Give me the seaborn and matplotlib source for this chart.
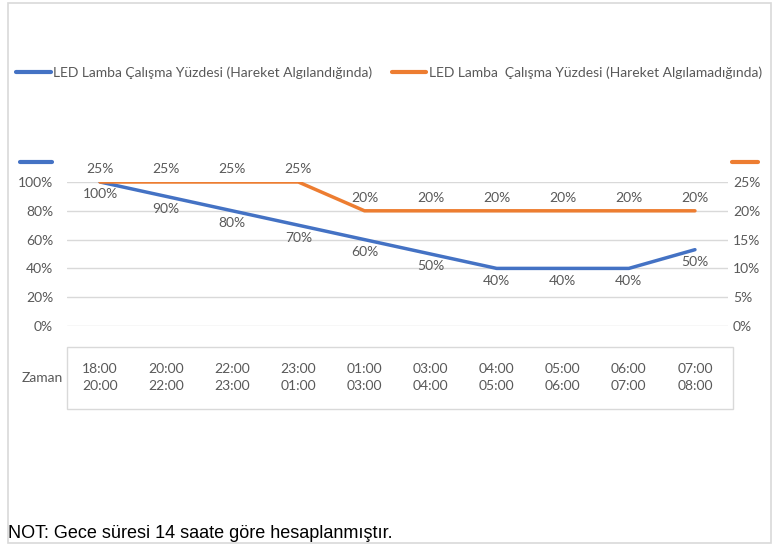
import numpy as np
import pandas as pd
import matplotlib
matplotlib.use("Agg")
import matplotlib.pyplot as plt
import seaborn as sns
from matplotlib.lines import Line2D
from matplotlib.patches import Rectangle
from matplotlib.transforms import blended_transform_factory

# data
zaman = ["18:00\n20:00", "20:00\n22:00", "22:00\n23:00", "23:00\n01:00", "01:00\n03:00",
         "03:00\n04:00", "04:00\n05:00", "05:00\n06:00", "06:00\n07:00", "07:00\n08:00"]
hareket_var = [100, 90, 80, 70, 60, 50, 40, 40, 40, 53]
hareket_var_etiket = ["100%", "90%", "80%", "70%", "60%", "50%", "40%", "40%", "40%", "50%"]
hareket_yok = [25, 25, 25, 25, 20, 20, 20, 20, 20, 20]
seri1 = "LED Lamba Çalışma Yüzdesi (Hareket Algılandığında)"
seri2 = "LED Lamba  Çalışma Yüzdesi (Hareket Algılamadığında)"
not_metni = "NOT: Gece süresi 14 saate göre hesaplanmıştır."

sns.set_style("white")
plt.rcParams["font.family"] = ["Lato", "DejaVu Sans"]

BLUE = "#4472C4"
ORANGE = "#ED7D31"
GRAY = "#595959"
GRID = "#D9D9D9"
FS = 10
W, H = 784, 545

def fx(px):
    return px / W

def fy(py):
    return 1 - py / H

fig = plt.figure(figsize=(W / 100, H / 100), dpi=100)
ax = fig.add_axes([fx(67), fy(326), fx(728) - fx(67), fy(182) - fy(326)])

df = pd.DataFrame({"x": np.arange(len(zaman)), "blue": hareket_var, "orange": hareket_yok})

sns.lineplot(data=df, x="x", y="blue", ax=ax, color=BLUE, lw=2.5, legend=False)
ax.set_ylim(0, 100)
ax.set_xlim(-0.5, len(zaman) - 0.5)
ax.set_yticks(range(0, 101, 20))
ax.set_yticklabels([f"{v}%" for v in range(0, 101, 20)], color=GRAY, fontsize=FS)
ax.set_xticks([])
ax.set_xlabel("")
ax.set_ylabel("")
ax.grid(axis="y", color=GRID, lw=1)
ax.tick_params(axis="y", length=0, pad=10)
for s in ax.spines.values():
    s.set_visible(False)

ax2 = ax.twinx()
sns.lineplot(data=df, x="x", y="orange", ax=ax2, color=ORANGE, lw=2.5, legend=False)
ax2.set_ylim(0, 25)
ax2.set_yticks(range(0, 26, 5))
ax2.set_yticklabels([f"{v}%" for v in range(0, 26, 5)], color=GRAY, fontsize=FS)
ax2.tick_params(axis="y", length=0, pad=3.5)
ax2.set_ylabel("")
for s in ax2.spines.values():
    s.set_visible(False)

for i, (v, t) in enumerate(zip(hareket_var, hareket_var_etiket)):
    ax.annotate(t, (i, v), xytext=(0, -9), textcoords="offset points",
                ha="center", va="center", color=GRAY, fontsize=FS)
for i, v in enumerate(hareket_yok):
    ax2.annotate(f"{v}%", (i, v), xytext=(0, 9), textcoords="offset points",
                 ha="center", va="center", color=GRAY, fontsize=FS)

# category table under the plot
trans = blended_transform_factory(ax.transData, fig.transFigure)
for i, lab in enumerate(zaman):
    ax.text(i, fy(377.5), lab, transform=trans, ha="center", va="center",
            color=GRAY, fontsize=FS, linespacing=1.55)
fig.text(fx(42), fy(378), "Zaman", ha="center", va="center", color=GRAY, fontsize=FS)
fig.add_artist(Rectangle((fx(67), fy(409)), fx(733) - fx(67), fy(347) - fy(409),
                         transform=fig.transFigure, fill=False, ec=GRID, lw=1))

# axis series markers
fig.add_artist(Line2D([fx(20), fx(52)], [fy(162), fy(162)], color=BLUE, lw=3, solid_capstyle="round"))
fig.add_artist(Line2D([fx(732), fx(758)], [fy(162), fy(162)], color=ORANGE, lw=3, solid_capstyle="round"))

# legend
handles = [Line2D([], [], color=BLUE, lw=3), Line2D([], [], color=ORANGE, lw=3)]
fig.legend(handles, [seri1, seri2], loc="center", bbox_to_anchor=(fx(389), fy(73)),
           ncol=2, frameon=False, fontsize=FS, handlelength=2.5, handletextpad=0.15,
           columnspacing=1.4, labelcolor=GRAY)

fig.text(fx(8), fy(534), not_metni, ha="left", va="center", fontsize=13,
         family=["Liberation Sans", "DejaVu Sans"], color="black")

# chart border
fig.add_artist(Rectangle((fx(8), fy(543)), fx(771) - fx(8), fy(3) - fy(543),
                         transform=fig.transFigure, fill=False, ec=GRID, lw=1.2))

fig.savefig("out.png", dpi=100)
